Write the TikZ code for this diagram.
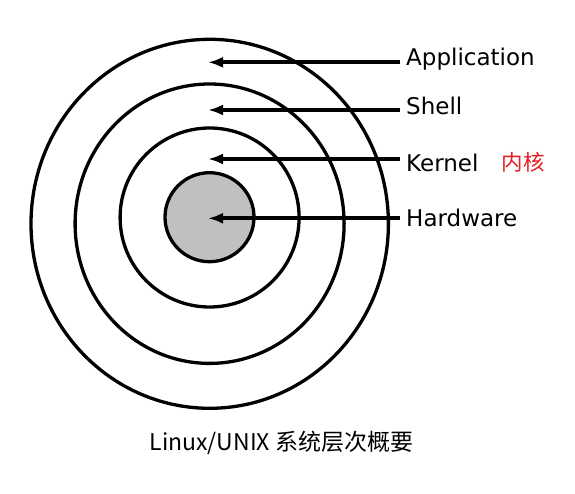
\documentclass[tikz,border=0pt]{standalone}
\usepackage{fontspec}
\usetikzlibrary{arrows.meta}
\newfontfamily\labelfont{DejaVu Sans}
\newfontfamily\cjkfont{Noto Sans CJK SC}
\definecolor{corered}{RGB}{230,30,35}
\definecolor{hwgray}{RGB}{192,192,192}

\begin{document}
\begin{tikzpicture}[x=1pt, y=-1pt,
  ring/.style = {draw, line width=3.3pt},
  layer/.style = {font=\labelfont\fontsize{23}{27}\selectfont,
    anchor=base west, inner xsep=6pt, inner ysep=0pt},
  pointer/.style = {line width=3.6pt, -{Latex[length=15pt, width=11pt]}}]
  \useasboundingbox (0,0) rectangle (575,494);

  % rings
  \draw[ring] (209.7,223.8) ellipse [x radius=178.7, y radius=184.5];
  \draw[ring] (209.6,223.7) ellipse [x radius=134.5, y radius=139.7];
  \draw[ring] (209.6,217.5) circle [radius=89.5];
  \draw[ring, fill=hwgray] (209.5,217.2) circle [radius=44.5];

  % labels
  \node[layer] (app) at (400,66) {Application};
  \node[layer] (shell) at (400,114.3) {Shell};
  \node[layer] (kernel) at (400,171.7) {Kernel};
  \node[layer] (hw) at (400,226.7) {Hardware};
  \node[font=\cjkfont\fontsize{21.5}{25}\selectfont, text=corered,
    anchor=base west, inner sep=0pt] (kernelzh) at (501.5,171) {内核};

  \coordinate (appTip) at (208,62.3);
  \coordinate (shellTip) at (208,110);
  \coordinate (kernelTip) at (208,159);
  \coordinate (hwTip) at (208,218.3);

  \draw[pointer] (app.west |- appTip) -- (appTip);
  \draw[pointer] (shell.west |- shellTip) -- (shellTip);
  \draw[pointer] (kernel.west |- kernelTip) -- (kernelTip);
  \draw[pointer] (hw.west |- hwTip) -- (hwTip);

  \node[font=\cjkfont\fontsize{23}{27}\selectfont, anchor=base,
    inner sep=0pt] (caption) at (281.5,450) {Linux/UNIX 系统层次概要};
\end{tikzpicture}
\end{document}
